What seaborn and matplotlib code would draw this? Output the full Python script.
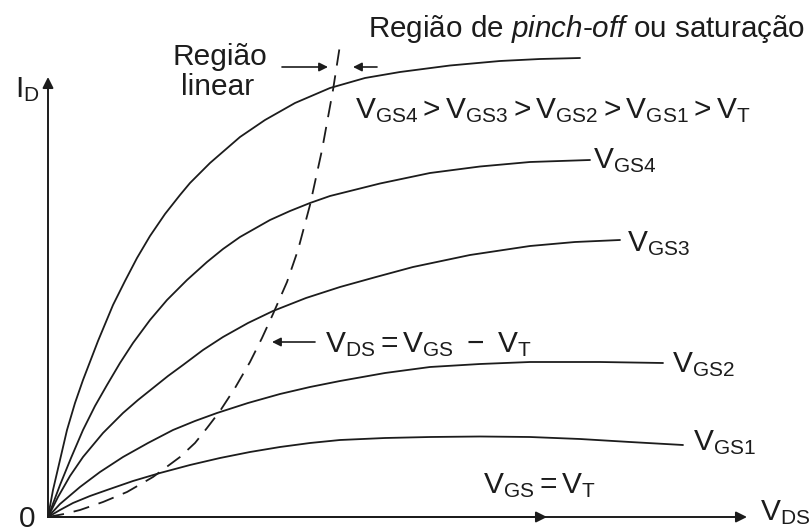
import matplotlib
matplotlib.use("Agg")
import matplotlib.pyplot as plt
import pandas as pd
import seaborn as sns

# MOSFET output characteristics: drain current I_D versus V_DS (arbitrary units)
vds_gs5 = [0, 0.5, 1.2, 1.9, 2.7, 3.5, 5.0, 6.5, 7.7, 8.9, 10.2, 11.7, 13.2, 14.2, 16.2,
           19.2, 21.7, 24.7, 28.2, 31.7, 35.2, 40.2, 45.2, 49.2, 53.2]
id_gs5 = [0, 2.7, 5.7, 8.7, 11.4, 13.7, 17.6, 21.2, 23.6, 25.9, 28.1, 30.3, 32.2, 33.4, 35.4,
          38.0, 39.7, 41.4, 42.9, 43.9, 44.5, 45.15, 45.6, 45.8, 45.9]

vds_gs4 = [0, 1.2, 2.3, 3.5, 4.7, 5.9, 7.2, 8.5, 10.2, 11.9, 13.9, 15.9, 17.5, 19.2,
           22.2, 24.2, 26.2, 28.2, 33.2, 38.2, 43.2, 48.2, 54.2]
id_gs4 = [0, 3.2, 5.9, 8.7, 11.1, 13.2, 15.4, 17.4, 19.7, 21.7, 23.7, 25.5, 26.8, 28.0,
          29.7, 30.6, 31.4, 32.1, 33.35, 34.4, 35.05, 35.5, 35.7]

vds_gs3 = [0, 1.0, 2.2, 3.5, 5.5, 7.5, 9.0, 10.5, 12.0, 13.5, 15.5, 17.5, 20.0, 22.5,
           25.8, 29.2, 32.8, 36.5, 42.2, 48.2, 52.7, 57.2]
id_gs3 = [0, 2.0, 4.1, 6.0, 8.4, 10.4, 11.7, 12.9, 14.1, 15.2, 16.7, 18.0, 19.4, 20.6,
          21.9, 23.0, 24.0, 25.0, 26.2, 27.1, 27.5, 27.7]

vds_gs2 = [0, 1.2, 3.2, 5.2, 7.5, 10.0, 12.5, 14.7, 16.9, 20.0, 23.2, 26.2, 29.2, 33.7,
           38.2, 43.2, 48.2, 55.2, 61.5]
id_gs2 = [0, 1.3, 3.0, 4.5, 6.0, 7.4, 8.7, 9.6, 10.4, 11.4, 12.3, 13.0, 13.6, 14.4,
          15.0, 15.3, 15.5, 15.5, 15.4]

vds_gs1 = [0, 1.2, 2.5, 4.2, 5.9, 8.5, 11.2, 14.2, 17.2, 20.2, 23.2, 26.2, 29.2, 33.7,
           38.2, 43.2, 48.2, 53.2, 58.2, 63.5]
id_gs1 = [0, 0.7, 1.4, 2.1, 2.7, 3.6, 4.4, 5.2, 5.9, 6.5, 7.0, 7.4, 7.7, 7.9,
          8.0, 8.05, 8.0, 7.8, 7.5, 7.2]

# Boundary V_DS = V_GS - V_T between the linear and pinch-off regions
vds_sat = [0, 1.6, 3.2, 5.5, 7.9, 10.5, 13.2, 14.7, 15.9, 17.2, 18.7, 20.2, 21.4, 22.5,
           23.9, 25.0, 26.2, 27.4, 28.5, 29.2]
id_sat = [0, 0.3, 0.7, 1.5, 2.5, 4.0, 6.0, 7.4, 8.9, 10.6, 12.9, 15.5, 17.9, 20.3,
          23.5, 26.7, 31.2, 36.7, 42.7, 47.2]

curve_names = ["VGS5", "VGS4", "VGS3", "VGS2", "VGS1"]
curve_x = [vds_gs5, vds_gs4, vds_gs3, vds_gs2, vds_gs1]
curve_y = [id_gs5, id_gs4, id_gs3, id_gs2, id_gs1]

frames = []
for name, xs, ys in zip(curve_names, curve_x, curve_y):
    frames.append(pd.DataFrame({"vds": xs, "id": ys, "curve": name}))
curves = pd.concat(frames, ignore_index=True)
boundary = pd.DataFrame({"vds": vds_sat, "id": id_sat})

sns.set_style("white")
plt.rcParams["font.family"] = ["Liberation Sans", "DejaVu Sans"]
plt.rcParams["mathtext.fontset"] = "custom"
plt.rcParams["mathtext.rm"] = "Liberation Sans"
plt.rcParams["mathtext.it"] = "Liberation Sans:italic"
plt.rcParams["mathtext.bf"] = "Liberation Sans:bold"

INK = "#1c1c1c"
FS = 21.5

fig = plt.figure(figsize=(8.11, 5.32), dpi=100)
ax = fig.add_axes([0, 0, 1, 1])
ax.set_xlim(-4.8, 76.3)
ax.set_ylim(-1.5, 51.7)
ax.axis("off")

sns.lineplot(data=curves, x="vds", y="id", units="curve", estimator=None,
             sort=False, color=INK, lw=1.3, ax=ax, legend=False)
sns.lineplot(data=boundary, x="vds", y="id", estimator=None, sort=False,
             color=INK, lw=1.3, linestyle=(0, (9, 5.5)), ax=ax, legend=False)

arrow = dict(arrowstyle="-|>", color=INK, lw=1.4, mutation_scale=16,
             shrinkA=0, shrinkB=0)
# axes
ax.annotate("", xy=(0, 44.0), xytext=(0, 0), arrowprops=arrow)
ax.annotate("", xy=(69.9, 0), xytext=(0, 0), arrowprops=arrow)
ax.annotate("", xy=(49.9, 0), xytext=(0, 0), arrowprops=arrow)

ax.text(-3.3, 42.0, r"$\mathregular{I_D}$", fontsize=FS, color=INK,
        ha="left", va="baseline")
ax.text(-2.05, -1.0, "0", fontsize=FS, color=INK, ha="center", va="baseline")
ax.text(71.2, -0.3, r"$\mathregular{V_{DS}}$", fontsize=FS, color=INK,
        ha="left", va="baseline")

# region labels
ax.text(32.0, 48.0, r"Região de $\mathit{pinch}$-$\mathit{off}$ ou saturação",
        fontsize=21.3, color=INK, ha="left", va="baseline")
ax.text(17.2, 45.2, "Região", fontsize=FS, color=INK, ha="center", va="baseline")
ax.text(17.0, 42.2, "linear", fontsize=FS, color=INK, ha="center", va="baseline")
small_arrow = dict(arrowstyle="-|>", color=INK, lw=1.2, mutation_scale=13,
                   shrinkA=0, shrinkB=0)
ax.annotate("", xy=(28.0, 45.0), xytext=(23.4, 45.0), arrowprops=small_arrow)
ax.annotate("", xy=(30.5, 45.0), xytext=(32.9, 45.0), arrowprops=small_arrow)

ax.text(30.7, 39.9,
        r"$\mathregular{V_{GS4} > V_{GS3} > V_{GS2} > V_{GS1} > V_T}$",
        fontsize=FS, color=INK, ha="left", va="baseline")

# curve labels
ax.text(54.5, 34.9, r"$\mathregular{V_{GS4}}$", fontsize=FS, color=INK, va="baseline")
ax.text(57.9, 26.6, r"$\mathregular{V_{GS3}}$", fontsize=FS, color=INK, va="baseline")
ax.text(62.4, 14.5, r"$\mathregular{V_{GS2}}$", fontsize=FS, color=INK, va="baseline")
ax.text(64.5, 6.7, r"$\mathregular{V_{GS1}}$", fontsize=FS, color=INK, va="baseline")
ax.text(43.5, 2.4, r"$\mathregular{V_{GS} = V_T}$", fontsize=FS, color=INK, va="baseline")

ax.annotate("", xy=(22.4, 17.5), xytext=(26.7, 17.5), arrowprops=small_arrow)
ax.text(27.7, 16.5, r"$\mathregular{V_{DS} = V_{GS}\ -\ V_T}$", fontsize=FS,
        color=INK, va="baseline")

fig.savefig("out.png", dpi=100, facecolor="white")
